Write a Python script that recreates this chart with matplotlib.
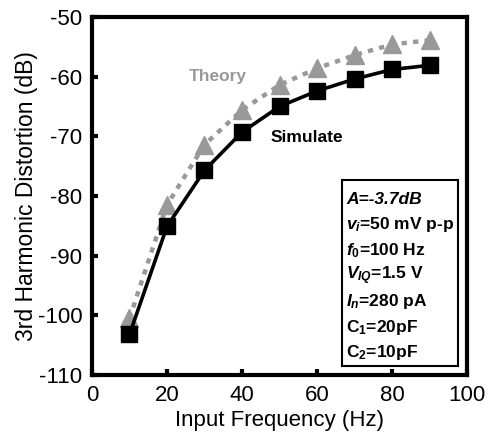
import matplotlib
matplotlib.use("Agg")
import matplotlib.pyplot as plt
from matplotlib.patches import Rectangle

plt.rcParams["font.family"] = ["Liberation Sans", "DejaVu Sans"]
plt.rcParams["axes.unicode_minus"] = False
plt.rcParams["mathtext.fontset"] = "custom"
plt.rcParams["mathtext.it"] = "Liberation Sans:italic:bold"
plt.rcParams["mathtext.rm"] = "Liberation Sans:bold"
plt.rcParams["mathtext.bf"] = "Liberation Sans:bold"

# data
freq = [10, 20, 30, 40, 50, 60, 70, 80, 90]
simulate = [-103.2, -85.1, -75.7, -69.3, -65.0, -62.4, -60.4, -58.8, -58.1]
theory = [-100.5, -81.5, -71.4, -65.6, -61.4, -58.6, -56.4, -54.6, -53.9]
x_ticks = [0, 20, 40, 60, 80, 100]
y_ticks = [-110, -100, -90, -80, -70, -60, -50]
box_lines = [
    "A=-3.7dB",
    r"$\mathit{v_i}$=50 mV p-p",
    r"$\mathit{f_0}$=100 Hz",
    r"$\mathit{V_{IQ}}$=1.5 V",
    r"$\mathit{I_n}$=280 pA",
    r"C$_1$=20pF",
    r"C$_2$=10pF",
]

fig = plt.figure(figsize=(4.88, 4.47), dpi=100)
ax = fig.add_axes([0.1885, 0.161, 0.7685, 0.801])

ax.plot(freq, theory, linestyle=(0, (1.2, 1.4)), color="#999999", lw=3.2,
        marker="^", markersize=13, markerfacecolor="#999999", markeredgecolor="#999999")
ax.plot(freq, simulate, linestyle="-", color="black", lw=2.6,
        marker="s", markersize=12, markerfacecolor="black", markeredgecolor="black")

ax.set_xlim(0, 100)
ax.set_ylim(-110, -50)
ax.set_xticks(x_ticks)
ax.set_yticks(y_ticks)
ax.tick_params(direction="in", length=4, width=3, labelsize=16, pad=7)
for s in ax.spines.values():
    s.set_linewidth(3)

ax.set_xlabel("Input Frequency (Hz)", fontsize=16, labelpad=3)
ax.set_ylabel("3rd Harmonic Distortion (dB)", fontsize=16.5, labelpad=0)

ax.text(33.5, -60, "Theory", color="#999999", fontsize=12.5, fontweight="bold",
        ha="center", va="center")
ax.text(57.3, -70.2, "Simulate", color="black", fontsize=12.5, fontweight="bold",
        ha="center", va="center")

# parameter box
ax.add_patch(Rectangle((0.667, 0.025), 0.309, 0.52, transform=ax.transAxes,
                       facecolor="white", edgecolor="black", lw=1.5, zorder=3))
for i, line in enumerate(box_lines):
    ax.text(0.677, 0.491 - i * 0.0715, line, transform=ax.transAxes,
            fontsize=12.5, fontweight="bold", fontstyle="italic" if i == 0 else "normal",
            ha="left", va="center", zorder=4)

fig.savefig("out.png", dpi=100)
